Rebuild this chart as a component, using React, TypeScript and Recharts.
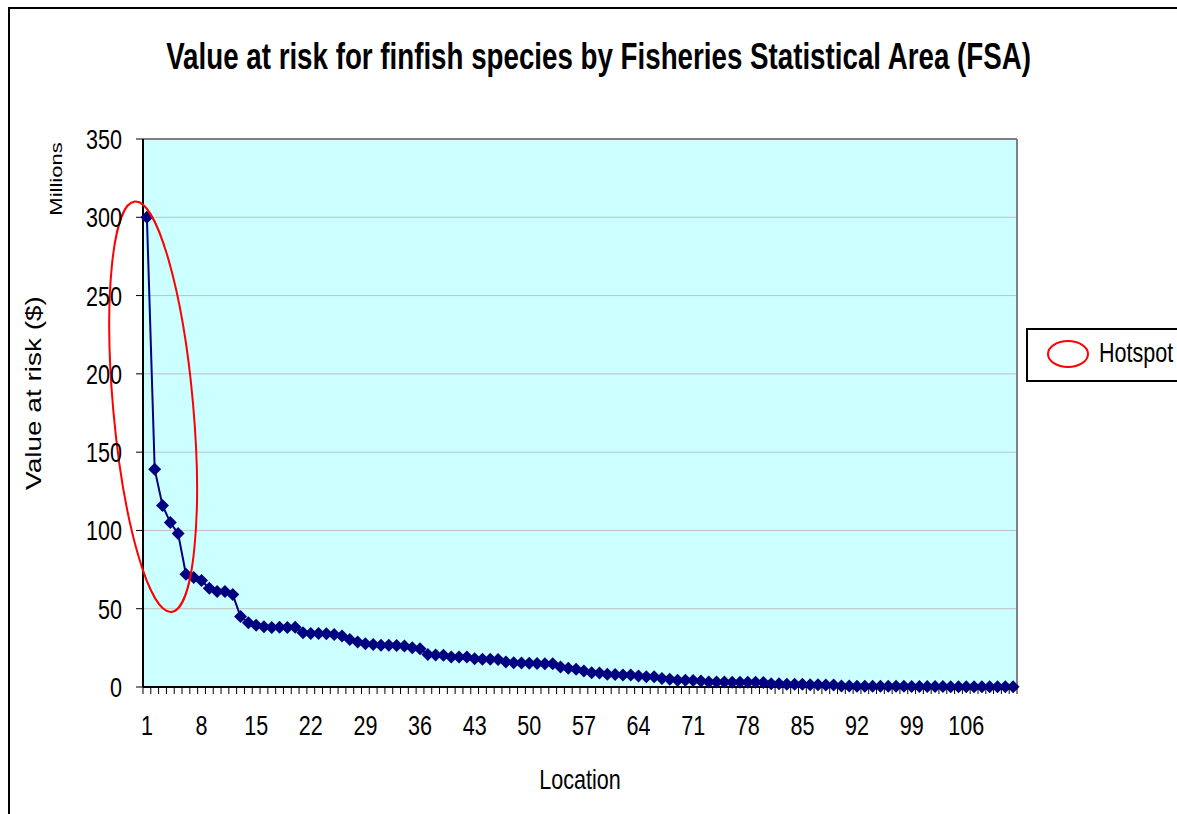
import React from 'react';
import {
    LineChart, Line, XAxis, YAxis, CartesianGrid, ReferenceLine, ReferenceDot, Label,
} from 'recharts';

// value at risk per FSA, millions of dollars, sorted high to low
const riskValues = [
    300, 139, 116, 105, 98, 72, 70, 68, 63, 61,
    61, 59, 45, 41, 39.5, 38.5, 38, 38.2, 38, 38.2,
    34.7, 34.1, 34.1, 34, 33.6, 32.6, 30.4, 28.7, 27.7, 27.2,
    26.6, 26.6, 26.5, 26.2, 25.1, 24.5, 20.8, 20.4, 20.3, 19.2,
    19.2, 19.1, 18.1, 17.7, 17.7, 17.6, 16, 15.5, 15.4, 15.2,
    15, 14.9, 14.8, 12.8, 11.9, 11.3, 10.2, 9.1, 9, 8.1,
    8, 7.7, 7.6, 7, 6.6, 6.5, 5.5, 4.9, 4.3, 4.3,
    4.2, 3.8, 3.2, 3.2, 3.2, 3.1, 3.1, 3.1, 3, 2.8,
    2.1, 2.1, 1.8, 1.8, 1.7, 1.5, 1.4, 1.3, 1.2, 0.7,
    0.6, 0.5, 0.5, 0.5, 0.4, 0.4, 0.4, 0.4, 0.3, 0.3,
    0.3, 0.3, 0.3, 0.2, 0.2, 0.2, 0.2, 0.2, 0.1, 0.1, 0.1, 0.1,
];
const locations = riskValues.map((_, i) => i + 1);
const locationLabels = [1, 8, 15, 22, 29, 36, 43, 50, 57, 64, 71, 78, 85, 92, 99, 106];
const yTicks = [0, 50, 100, 150, 200, 250, 300, 350];
const hotspotCentre = { loc: 1.8, value: 179 };

const data = locations.map((loc, i) => ({ loc, value: riskValues[i] }));
// Excel style: tick marks on category boundaries, labels on the centres
const boundaries = [0, ...locations].map(n => n + 0.5);
const xTicks = [...boundaries, ...locationLabels];

// the original is Arial squeezed sideways, so scale Liberation Sans on x
const FONT = "'Liberation Sans', Arial, sans-serif";
const SQUEEZE = 0.77;
const NAVY = '#000080';

const SqText = ({ x, y, size, anchor = 'middle', rotate = 0, bold = false, children }: any) => (
    <text
        transform={`translate(${x},${y}) scale(${SQUEEZE},1)${rotate ? ` rotate(${rotate})` : ''}`}
        textAnchor={anchor} fontFamily={FONT} fontSize={size} fontWeight={bold ? 'bold' : 'normal'} fill="#000"
    >
        {children}
    </text>
);

const XTick = (props: any) => {
    const { x, y, payload } = props;
    if (payload.value % 1 !== 0) {
        return <line x1={x} x2={x} y1={y} y2={y + 7} stroke="#000" strokeWidth={1} />;
    }
    return <SqText x={x} y={y + 48} size={28}>{payload.value}</SqText>;
};

const YTick = (props: any) => {
    const { x, y, payload } = props;
    return <SqText x={x} y={y + 10} size={28} anchor="end">{payload.value}</SqText>;
};

const Diamond = (props: any) => {
    const { cx, cy } = props;
    if (cx == null || cy == null) return <g />;
    const r = 6.5;
    return (
        <polygon
            points={`${cx},${cy - r} ${cx + r},${cy} ${cx},${cy + r} ${cx - r},${cy}`}
            fill={NAVY}
        />
    );
};

const Hotspot = (props: any) => {
    const { cx, cy } = props;
    return (
        <ellipse
            cx={cx} cy={cy} rx={40} ry={206}
            transform={`rotate(-5.1 ${cx} ${cy})`}
            fill="none" stroke="#FF0000" strokeWidth={2}
        />
    );
};

const YTitles = (props: any) => {
    const { viewBox } = props;
    const midY = viewBox.y + viewBox.height / 2 - 20;
    return (
        <g>
            <SqText x={41} y={midY} size={28} rotate={-90}>Value at risk ($)</SqText>
            <SqText x={62} y={viewBox.y + 40} size={22} rotate={-90}>Millions</SqText>
        </g>
    );
};

const XTitle = (props: any) => {
    const { viewBox } = props;
    return <SqText x={viewBox.x + viewBox.width / 2} y={789} size={28}>Location</SqText>;
};

export default function App() {
    return (
        <div style={{ position: 'fixed', left: 0, top: 0, width: 1177, height: 814, overflow: 'hidden', background: '#fff' }}>
            <div style={{
                position: 'absolute', left: 8, top: 7, width: 1300, height: 900,
                borderLeft: '2px solid #000', borderTop: '2px solid #000',
            }} />
            <div style={{
                position: 'absolute', left: 10, top: 37, width: 1177, textAlign: 'center',
                fontFamily: FONT, fontWeight: 'bold', fontSize: 36, lineHeight: '40px', whiteSpace: 'nowrap',
            }}>
                <span style={{ display: 'inline-block', transform: `scaleX(${SQUEEZE})` }}>
                    Value at risk for finfish species by Fisheries Statistical Area (FSA)
                </span>
            </div>
            <div style={{ position: 'absolute', left: 0, top: 0 }}>
                <LineChart width={1177} height={814} data={data}
                    margin={{ top: 139, right: 160, bottom: 27, left: 0 }}>
                    <CartesianGrid vertical={false} stroke="#C0C0C0" fill="#CCFFFF" fillOpacity={1} />
                    <XAxis
                        dataKey="loc" type="number" domain={[0.5, locations.length + 0.5]}
                        ticks={xTicks} interval={0} tickLine={false} tickSize={0} tickMargin={0}
                        tick={<XTick />} height={100}
                        axisLine={{ stroke: '#000', strokeWidth: 2 }}
                    >
                        <Label content={<XTitle />} />
                    </XAxis>
                    <YAxis
                        domain={[0, 350]} ticks={yTicks} interval={0} width={143}
                        tickSize={7} tickMargin={14}
                        tick={<YTick />}
                        tickLine={{ stroke: '#000' }}
                        axisLine={{ stroke: '#000', strokeWidth: 2 }}
                    >
                        <Label content={<YTitles />} />
                    </YAxis>
                    <ReferenceLine y={350} stroke="#808080" strokeWidth={2} />
                    <ReferenceLine x={locations.length + 0.5} stroke="#808080" strokeWidth={2} />
                    <Line
                        type="linear" dataKey="value" stroke={NAVY} strokeWidth={2}
                        dot={<Diamond />} activeDot={false} isAnimationActive={false}
                    />
                    <ReferenceDot
                        x={hotspotCentre.loc} y={hotspotCentre.value} ifOverflow="visible"
                        shape={<Hotspot />}
                    />
                </LineChart>
            </div>
            <div style={{
                position: 'absolute', left: 1026, top: 328, width: 170, height: 50,
                border: '2px solid #000', background: '#fff',
            }}>
                <svg width={50} height={36} style={{ position: 'absolute', left: 18, top: 8 }}>
                    <ellipse cx={22} cy={16} rx={20} ry={13} fill="none" stroke="#FF0000" strokeWidth={2} />
                </svg>
                <span style={{
                    position: 'absolute', left: 71, top: 7, fontFamily: FONT, fontSize: 28, lineHeight: '32px',
                    display: 'inline-block', transform: `scaleX(${SQUEEZE})`, transformOrigin: 'left center',
                    whiteSpace: 'nowrap',
                }}>Hotspot</span>
            </div>
        </div>
    );
}
